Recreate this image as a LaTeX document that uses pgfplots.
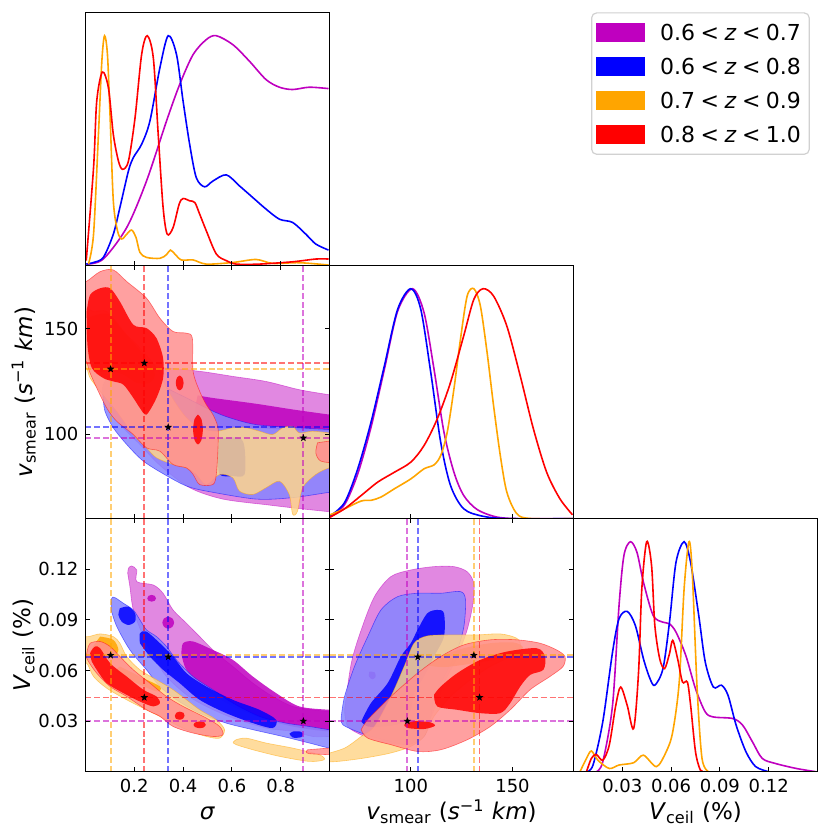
\documentclass[border=0pt]{standalone}
\usepackage{fontspec}
\setmainfont{DejaVu Sans}
\usepackage{pgfplots}
\pgfplotsset{compat=1.18}
\definecolor{cP}{rgb}{0.75,0,0.75}
\definecolor{cB}{rgb}{0,0,1}
\definecolor{cO}{rgb}{1,0.647,0}
\definecolor{cR}{rgb}{1,0,0}
\pgfdeclareplotmark{fstar}{%
\pgfpathmoveto{\pgfpointpolar{90}{\pgfplotmarksize}}%
\pgfpathlineto{\pgfpointpolar{126}{0.42\pgfplotmarksize}}%
\pgfpathlineto{\pgfpointpolar{162}{\pgfplotmarksize}}%
\pgfpathlineto{\pgfpointpolar{198}{0.42\pgfplotmarksize}}%
\pgfpathlineto{\pgfpointpolar{234}{\pgfplotmarksize}}%
\pgfpathlineto{\pgfpointpolar{270}{0.42\pgfplotmarksize}}%
\pgfpathlineto{\pgfpointpolar{306}{\pgfplotmarksize}}%
\pgfpathlineto{\pgfpointpolar{342}{0.42\pgfplotmarksize}}%
\pgfpathlineto{\pgfpointpolar{18}{\pgfplotmarksize}}%
\pgfpathlineto{\pgfpointpolar{54}{0.42\pgfplotmarksize}}%
\pgfpathclose\pgfusepathqfill}
\pgfplotsset{
 panel/.style={scale only axis, width=122pt, height=126.5pt, anchor=south west, axis on top,
   axis line style={line width=0.6pt}, tick style={black, line width=0.5pt}, major tick length=2.2pt,
   tick align=inside, ticklabel style={font=\fontsize{9}{10}\selectfont},
   label style={font=\fontsize{11.5}{13}\selectfont},
   ylabel style={at={(axis description cs:-0.253,0.5)}, anchor=center},
   xlabel style={at={(axis description cs:0.5,-0.19)}, anchor=base}},
 diag/.style={panel, ymin=0, ymax=1.1, ytick=\empty, xtick pos=left},
 ln/.style={smooth, tension=0.5, line width=0.8pt, forget plot},
 oP/.style={smooth, fill=cP!55, fill opacity=0.85, draw=cP, draw opacity=0.5, line width=0.3pt},
 iP/.style={smooth, fill=cP, fill opacity=0.85, draw=none},
 oB/.style={smooth, fill=cB!48, fill opacity=0.85, draw=cB, draw opacity=0.5, line width=0.3pt},
 iB/.style={smooth, fill=cB, fill opacity=0.85, draw=none},
 oO/.style={smooth, fill=cO!45, fill opacity=0.85, draw=cO, draw opacity=0.5, line width=0.3pt},
 iO/.style={smooth, fill=cO, fill opacity=0.85, draw=none},
 oR/.style={smooth, fill=cR!44, fill opacity=0.85, draw=cR, draw opacity=0.5, line width=0.3pt},
 iR/.style={smooth, fill=cR, fill opacity=0.85, draw=none},
 dl/.style={line width=0.9pt, dash pattern=on 3pt off 1.4pt, draw opacity=0.55},
 st/.style={only marks, mark=fstar, mark size=2pt, black},
}
\begin{document}
\begin{tikzpicture}
\useasboundingbox (0,0) rectangle (415pt,416pt);
% ---------------- top-left: sigma density
\begin{axis}[diag, at={(42.75pt,283.15pt)}, xmin=0, xmax=1, xtick={0.2,0.4,0.6,0.8}, xticklabels={},
  legend style={at={(axis description cs:2.072,1.0016)}, anchor=north west, draw=black!18, line width=0.6pt,
   rounded corners=2.5pt, fill=white, font=\fontsize{11}{13}\selectfont, inner xsep=2.15pt, inner ysep=3.7pt,
   row sep=5.1pt, column sep=5.5pt, nodes={inner sep=2pt, text height=8pt, text depth=0pt}},
  legend cell align=left]
\addlegendimage{legend image code/.code={\fill[cP, sharp corners] (0pt,-4.4pt) rectangle (24pt,4.4pt);}}
\addlegendentry{0.6\hspace{0.25em}<\hspace{0.25em}\textit{z}\hspace{0.25em}<\hspace{0.25em}0.7}
\addlegendimage{legend image code/.code={\fill[cB, sharp corners] (0pt,-4.4pt) rectangle (24pt,4.4pt);}}
\addlegendentry{0.6\hspace{0.25em}<\hspace{0.25em}\textit{z}\hspace{0.25em}<\hspace{0.25em}0.8}
\addlegendimage{legend image code/.code={\fill[cO, sharp corners] (0pt,-4.4pt) rectangle (24pt,4.4pt);}}
\addlegendentry{0.7\hspace{0.25em}<\hspace{0.25em}\textit{z}\hspace{0.25em}<\hspace{0.25em}0.9}
\addlegendimage{legend image code/.code={\fill[cR, sharp corners] (0pt,-4.4pt) rectangle (24pt,4.4pt);}}
\addlegendentry{0.8\hspace{0.25em}<\hspace{0.25em}\textit{z}\hspace{0.25em}<\hspace{0.25em}1.0}
\addplot[ln, cP] coordinates {(0.005,0.007) (0.073,0.029) (0.169,0.166) (0.25,0.368) (0.332,0.629) (0.386,0.788) (0.441,0.918) (0.495,0.983) (0.536,1.0) (0.604,0.961) (0.672,0.889) (0.74,0.809) (0.795,0.776) (0.849,0.766) (0.917,0.776) (0.996,0.77)};
\addplot[ln, cB] coordinates {(0.003,0.007) (0.033,0.014) (0.073,0.036) (0.114,0.137) (0.141,0.253) (0.176,0.412) (0.196,0.47) (0.23,0.528) (0.264,0.629) (0.305,0.861) (0.339,1.0) (0.373,0.918) (0.4,0.715) (0.427,0.527) (0.454,0.383) (0.488,0.343) (0.522,0.368) (0.577,0.395) (0.631,0.347) (0.686,0.296) (0.74,0.246) (0.795,0.202) (0.849,0.188) (0.903,0.137) (0.944,0.094) (0.996,0.068)};
\addplot[ln, cO] coordinates {(0.012,0.007) (0.033,0.137) (0.053,0.571) (0.067,0.889) (0.078,1.0) (0.09,0.918) (0.101,0.643) (0.114,0.282) (0.131,0.152) (0.148,0.116) (0.169,0.137) (0.189,0.155) (0.207,0.123) (0.223,0.058) (0.25,0.036) (0.305,0.032) (0.332,0.048) (0.348,0.068) (0.366,0.051) (0.393,0.025) (0.441,0.025) (0.495,0.007) (0.604,0.014) (0.699,0.027) (0.767,0.01) (0.876,0.013) (0.996,0.003)};
\addplot[ln, cR] coordinates {(0.003,0.022) (0.033,0.426) (0.046,0.715) (0.069,0.842) (0.094,0.773) (0.114,0.571) (0.135,0.455) (0.152,0.419) (0.176,0.455) (0.203,0.643) (0.23,0.918) (0.253,1.0) (0.278,0.903) (0.298,0.571) (0.318,0.254) (0.335,0.137) (0.359,0.166) (0.384,0.268) (0.4,0.292) (0.427,0.282) (0.448,0.275) (0.468,0.224) (0.495,0.152) (0.536,0.051) (0.577,0.022) (0.618,0.007) (0.713,0.007) (0.849,0.017) (0.944,0.029) (0.996,0.029)};
\end{axis}
% ---------------- middle-left: sigma vs v_smear
\begin{axis}[panel, at={(42.75pt,156.65pt)}, xmin=0, xmax=1, ymin=60, ymax=180,
  xtick={0.2,0.4,0.6,0.8}, xticklabels={}, ytick={100,150}, yticklabels={100,150},
  ylabel={\textit{v}\textsubscript{smear} (\textit{s}\textsuperscript{−1} \textit{km})}]
\addplot[oP] coordinates {(0.094,117.3)(0.114,120.4)(0.196,128.3)(0.305,131.5)(0.468,129.9)(0.604,127.5)(0.740,125.1)(0.876,121.2)(0.999,118.8)(1.03,118.5)(1.03,63)(0.999,63.3)(0.876,64.8)(0.75,66.5)(0.563,69.3)(0.427,74.7)(0.305,85.3)(0.223,95.2)(0.155,103.1)(0.107,110.9)(0.094,117.3)};
\addplot[iP] coordinates {(0.46,118.5)(0.52,117.3)(0.70,114.5)(0.85,111.8)(0.999,109.4)(1.03,109.2)(1.03,101.4)(0.999,101.5)(0.85,102)(0.70,103)(0.52,103.5)(0.46,106)(0.45,112)(0.46,118.5)};
\addplot[oB] coordinates {(0.071,118.8)(0.073,123.6)(0.114,129.9)(0.169,130.7)(0.237,128.3)(0.332,122.0)(0.414,117.3)(0.495,112.5)(0.577,108.4)(0.700,104.6)(0.876,103.1)(0.999,102.3)(1.03,102.3)(1.03,72.5)(0.999,72.5)(0.85,70)(0.699,69.3)(0.495,73.1)(0.414,75.5)(0.332,80.4)(0.237,87.3)(0.169,95.2)(0.114,103.1)(0.080,110.9)(0.071,118.8)};
\addplot[iB] coordinates {(0.55,98.3)(0.631,98.3)(0.652,93.6)(0.652,81.0)(0.604,80.2)(0.55,81.0)(0.543,90.4)(0.55,98.3)};
\addplot[oO] coordinates {(-0.03,159.8)(0.003,159.8)(0.033,158.3)(0.087,158.3)(0.141,150.4)(0.223,140.9)(0.291,131.5)(0.332,122.0)(0.373,114.1)(0.414,107.8)(0.468,103.1)(0.536,101.5)(0.604,103.1)(0.659,103.1)(0.713,101.5)(0.767,99.9)(0.808,103.1)(0.849,103.8)(0.876,100.7)(0.931,101.5)(0.999,100.7)(1.03,100.7)(1.03,83.5)(0.999,84.1)(0.944,81.0)(0.890,74.7)(0.869,63.6)(0.849,62.1)(0.835,71.5)(0.795,77.8)(0.740,74.7)(0.686,71.5)(0.631,73.1)(0.604,79.4)(0.550,81.0)(0.495,76.2)(0.454,81.0)(0.414,84.1)(0.359,85.7)(0.291,88.9)(0.250,93.6)(0.196,99.9)(0.128,110.9)(0.060,120.4)(0.019,126.7)(0.003,131.5)(-0.03,131.5)(-0.03,159.8)};
\addplot[iO] coordinates {(0.008,155.1)(0.046,156.7)(0.100,156.7)(0.169,147.2)(0.237,137.8)(0.284,129.1)(0.264,124.4)(0.210,124.4)(0.155,128.3)(0.100,129.9)(0.046,129.9)(0.012,134.6)(0.008,155.1)};
\addplot[oR] coordinates {(-0.03,172.5)(0.003,172.5)(0.060,177.2)(0.114,178.0)(0.169,172.5)(0.250,164.6)(0.305,155.1)(0.359,148.8)(0.414,148.0)(0.438,145.6)(0.441,129.9)(0.468,120.4)(0.495,114.1)(0.522,109.4)(0.543,103.1)(0.543,93.6)(0.536,81.0)(0.522,76.2)(0.468,76.2)(0.441,81.0)(0.414,84.1)(0.359,85.7)(0.305,92.0)(0.250,93.6)(0.196,99.9)(0.128,106.2)(0.087,112.5)(0.046,122.0)(0.016,129.9)(0.003,134.6)(-0.03,134.6)(-0.03,172.5)};
\addplot[oR] coordinates {(0.951,96.0)(0.999,96.8)(1.03,96.8)(1.03,87.3)(0.965,87.3)(0.944,91.2)(0.951,96.0)};
\addplot[iR] coordinates {(0.005,158.3)(0.019,166.2)(0.060,169.3)(0.101,169.3)(0.141,163.0)(0.196,152.0)(0.250,150.4)(0.291,145.6)(0.318,136.2)(0.318,126.7)(0.291,117.3)(0.250,109.4)(0.223,112.5)(0.196,117.3)(0.155,123.6)(0.114,125.1)(0.073,126.7)(0.026,131.5)(0.008,142.5)(0.005,158.3)};
\addplot[iR] coordinates {(0.386,127.9)(0.397,126.9)(0.402,124.4)(0.397,121.9)(0.386,120.9)(0.375,121.9)(0.370,124.4)(0.375,126.9)(0.386,127.9)};
\addplot[iR] coordinates {(0.461,109.4)(0.475,107.3)(0.481,102.3)(0.475,97.3)(0.461,95.2)(0.447,97.3)(0.441,102.3)(0.447,107.3)(0.461,109.4)};
\addplot[dl, cO] coordinates {(0.103,60) (0.103,180)};
\addplot[dl, cR] coordinates {(0.241,60) (0.241,180)};
\addplot[dl, cB] coordinates {(0.339,60) (0.339,180)};
\addplot[dl, cP] coordinates {(0.893,60) (0.893,180)};
\addplot[dl, cO] coordinates {(0,131) (1,131)};
\addplot[dl, cR] coordinates {(0,133.8) (1,133.8)};
\addplot[dl, cB] coordinates {(0,103.4) (1,103.4)};
\addplot[dl, cP] coordinates {(0,98.3) (1,98.3)};
\addplot[st] coordinates {(0.103,131) (0.241,133.8) (0.339,103.4) (0.893,98.3)};
\end{axis}
% ---------------- middle diag: v_smear density
\begin{axis}[diag, at={(164.75pt,156.65pt)}, xmin=60, xmax=180, xtick={100,150}, xticklabels={}]
\addplot[ln, cP] coordinates {(60.3,0.007) (67.4,0.061) (73.9,0.195) (80.4,0.397) (87.0,0.65) (93.5,0.902) (100.8,1.0) (106.5,0.896) (111.4,0.65) (116.3,0.376) (121.2,0.202) (126,0.101) (132.6,0.04) (142.4,0.007) (155,0) (180,0)};
\addplot[ln, cB] coordinates {(60.3,0.012) (67.4,0.07) (73.9,0.217) (80.4,0.419) (87.0,0.665) (93.5,0.91) (100,1.0) (104.9,0.91) (109.8,0.636) (114.7,0.332) (119.5,0.145) (126,0.043) (135.8,0.01) (148.9,0.0) (180,0)};
\addplot[ln, cO] coordinates {(60.3,0.017) (67.4,0.043) (75.6,0.077) (80.4,0.08) (85.3,0.094) (91.9,0.13) (100,0.173) (106.5,0.217) (111.4,0.234) (114.7,0.275) (117.9,0.376) (121.2,0.564) (124.4,0.78) (127.7,0.968) (131,1.0) (134.2,0.925) (137.5,0.723) (140.7,0.491) (144,0.275) (147.2,0.116) (152.1,0.022) (158.6,0.001) (180,0)};
\addplot[ln, cR] coordinates {(60.3,0.007) (67.4,0.043) (75.6,0.101) (83.7,0.159) (91.9,0.202) (100,0.246) (106.5,0.318) (113,0.434) (119.5,0.592) (126,0.795) (131,0.954) (135.5,1.0) (140.7,0.968) (147.2,0.838) (153.8,0.621) (160.3,0.39) (166.8,0.202) (173.3,0.087) (179.5,0.017)};
\end{axis}
% ---------------- bottom-left: sigma vs V_ceil
\begin{axis}[panel, at={(42.75pt,30.15pt)}, xmin=0, xmax=1, ymin=0, ymax=0.15,
  xtick={0.2,0.4,0.6,0.8}, xticklabels={0.2,0.4,0.6,0.8},
  ytick={0.03,0.06,0.09,0.12}, yticklabels={0.03,0.06,0.09,0.12},
  xlabel={\textit{σ}}, ylabel={\textit{V}\textsubscript{ceil} (\%)}]
\addplot[oP] coordinates {(0.173,0.1176)(0.176,0.1206)(0.189,0.1220)(0.210,0.1196)(0.210,0.1127)(0.278,0.1107)(0.318,0.1058)(0.359,0.0959)(0.414,0.0880)(0.468,0.0801)(0.536,0.0703)(0.604,0.0624)(0.686,0.0525)(0.767,0.0446)(0.849,0.0387)(0.931,0.0367)(0.999,0.0357)(1.03,0.0357)(1.03,0.0209)(0.999,0.0209)(0.931,0.0209)(0.849,0.0239)(0.740,0.0259)(0.604,0.0318)(0.495,0.0387)(0.414,0.0456)(0.332,0.0564)(0.278,0.0683)(0.237,0.0801)(0.196,0.0959)(0.182,0.1097)(0.173,0.1176)};
\addplot[iP] coordinates {(0.393,0.0703)(0.400,0.0762)(0.441,0.0772)(0.522,0.0722)(0.604,0.0663)(0.686,0.0564)(0.781,0.0466)(0.876,0.0387)(0.999,0.0367)(1.03,0.0367)(1.03,0.0239)(0.999,0.0239)(0.931,0.0249)(0.849,0.0268)(0.740,0.0308)(0.604,0.0387)(0.495,0.0486)(0.414,0.0604)(0.393,0.0703)};
\addplot[iP] coordinates {(0.271,0.1048)(0.284,0.1042)(0.289,0.1028)(0.284,0.1014)(0.271,0.1008)(0.258,0.1014)(0.253,0.1028)(0.258,0.1042)(0.271,0.1048)};
\addplot[iP] coordinates {(0.339,0.092)(0.356,0.0909)(0.363,0.0884)(0.356,0.0859)(0.339,0.0848)(0.322,0.0859)(0.315,0.0884)(0.322,0.0909)(0.339,0.092)};
\addplot[oB] coordinates {(0.105,0.0959)(0.107,0.1028)(0.121,0.1032)(0.155,0.0999)(0.196,0.0959)(0.223,0.0900)(0.250,0.0841)(0.291,0.0801)(0.332,0.0742)(0.373,0.0663)(0.441,0.0564)(0.522,0.0486)(0.604,0.0407)(0.713,0.0328)(0.822,0.0288)(0.917,0.0268)(0.999,0.0249)(1.03,0.0249)(1.03,0.0140)(0.999,0.0140)(0.917,0.0170)(0.808,0.0209)(0.686,0.0249)(0.577,0.0288)(0.468,0.0347)(0.373,0.0426)(0.305,0.0505)(0.250,0.0604)(0.182,0.0722)(0.128,0.0861)(0.105,0.0959)};
\addplot[iB] coordinates {(0.141,0.0969)(0.176,0.0979)(0.203,0.0939)(0.203,0.0890)(0.176,0.0870)(0.148,0.0890)(0.135,0.0930)(0.141,0.0969)};
\addplot[iB] coordinates {(0.223,0.0762)(0.223,0.0821)(0.250,0.0831)(0.305,0.0762)(0.359,0.0683)(0.414,0.0584)(0.495,0.0505)(0.604,0.0426)(0.713,0.0367)(0.781,0.0308)(0.767,0.0259)(0.686,0.0288)(0.577,0.0347)(0.468,0.0426)(0.386,0.0525)(0.318,0.0604)(0.264,0.0683)(0.223,0.0762)};
\addplot[iB] coordinates {(0.836,0.0225)(0.85,0.0238)(0.88,0.0238)(0.89,0.0225)(0.885,0.0205)(0.85,0.0202)(0.836,0.0225)};
\addplot[oO] coordinates {(-0.03,0.0801)(0.012,0.0801)(0.060,0.0817)(0.114,0.0801)(0.141,0.0762)(0.169,0.0683)(0.223,0.0604)(0.291,0.0545)(0.359,0.0486)(0.414,0.0426)(0.468,0.0367)(0.536,0.0308)(0.570,0.0249)(0.550,0.0199)(0.495,0.0209)(0.414,0.0249)(0.332,0.0308)(0.250,0.0367)(0.169,0.0426)(0.087,0.0495)(0.033,0.0564)(0.005,0.0643)(-0.03,0.0643)(-0.03,0.0801)};
\addplot[oO] coordinates {(0.618,0.0190)(0.659,0.0199)(0.740,0.0170)(0.849,0.0140)(0.958,0.0101)(0.978,0.0071)(0.917,0.0061)(0.795,0.0091)(0.686,0.0130)(0.618,0.0160)(0.605,0.0175)(0.618,0.0190)};
\addplot[iO] coordinates {(0.060,0.0801)(0.114,0.0782)(0.135,0.0722)(0.114,0.0683)(0.060,0.0683)(0.026,0.0722)(0.060,0.0801)};
\addplot[iO] coordinates {(0.141,0.0624)(0.223,0.0564)(0.305,0.0505)(0.291,0.0476)(0.196,0.0535)(0.128,0.0594)(0.141,0.0624)};
\addplot[oR] coordinates {(0.003,0.0683)(0.008,0.0722)(0.019,0.0762)(0.060,0.0772)(0.101,0.0742)(0.141,0.0683)(0.196,0.0604)(0.264,0.0525)(0.332,0.0446)(0.400,0.0387)(0.495,0.0318)(0.550,0.0268)(0.563,0.0219)(0.522,0.0209)(0.441,0.0229)(0.359,0.0268)(0.305,0.0328)(0.250,0.0367)(0.169,0.0446)(0.101,0.0505)(0.046,0.0584)(0.012,0.0653)(0.003,0.0683)};
\addplot[oR] coordinates {(0.910,0.0130)(0.999,0.0140)(1.03,0.0140)(1.03,0.0101)(0.999,0.0101)(0.917,0.0107)(0.905,0.0118)(0.910,0.0130)};
\addplot[iR] coordinates {(0.026,0.0653)(0.019,0.0703)(0.039,0.0742)(0.060,0.0732)(0.101,0.0643)(0.169,0.0564)(0.237,0.0486)(0.291,0.0446)(0.305,0.0407)(0.278,0.0387)(0.223,0.0416)(0.155,0.0466)(0.087,0.0525)(0.046,0.0604)(0.026,0.0653)};
\addplot[iR] coordinates {(0.386,0.0356)(0.402,0.0349)(0.406,0.0332)(0.400,0.0315)(0.386,0.0308)(0.370,0.0315)(0.366,0.0332)(0.372,0.0349)(0.386,0.0356)};
\addplot[iR] coordinates {(0.468,0.0298)(0.488,0.0292)(0.493,0.0278)(0.485,0.0263)(0.468,0.0258)(0.450,0.0264)(0.443,0.0278)(0.450,0.0292)(0.468,0.0298)};
\addplot[dl, cO] coordinates {(0.103,0) (0.103,0.15)};
\addplot[dl, cR] coordinates {(0.241,0) (0.241,0.15)};
\addplot[dl, cB] coordinates {(0.339,0) (0.339,0.15)};
\addplot[dl, cP] coordinates {(0.893,0) (0.893,0.15)};
\addplot[dl, cO] coordinates {(0,0.069) (1,0.069)};
\addplot[dl, cR] coordinates {(0,0.044) (1,0.044)};
\addplot[dl, cB] coordinates {(0,0.068) (1,0.068)};
\addplot[dl, cP] coordinates {(0,0.030) (1,0.030)};
\addplot[st] coordinates {(0.103,0.069) (0.241,0.044) (0.339,0.068) (0.893,0.030)};
\end{axis}
% ---------------- bottom-middle: v_smear vs V_ceil
\begin{axis}[panel, at={(164.75pt,30.15pt)}, xmin=60, xmax=180, ymin=0, ymax=0.15,
  xtick={100,150}, xticklabels={100,150}, ytick={0.03,0.06,0.09,0.12}, yticklabels={},
  xlabel={\textit{v}\textsubscript{smear} (\textit{s}\textsuperscript{−1} \textit{km})}]
\addplot[oP] coordinates {(67.4,0.0367)(70.7,0.0643)(75.6,0.0841)(82.1,0.1038)(90.2,0.1157)(100,0.1196)(111.4,0.1216)(121.2,0.1216)(127.7,0.1186)(131.0,0.1117)(130.6,0.0999)(127.7,0.0841)(122.8,0.0683)(116.3,0.0525)(111.4,0.0367)(106.5,0.0249)(98.4,0.0170)(87.0,0.0170)(77.2,0.0209)(69.0,0.0268)(67.4,0.0367)};
\addplot[iP] coordinates {(79.6,0.0594)(82.3,0.0588)(82.6,0.056)(81,0.0548)(79.4,0.0565)(79.6,0.0594)};
\addplot[oB] coordinates {(65.8,0.0328)(67.4,0.0446)(72.3,0.0624)(78.8,0.0801)(85.3,0.0959)(93.5,0.1038)(103.3,0.1058)(114.7,0.1058)(124.4,0.1068)(126.9,0.1018)(126.1,0.0861)(122.8,0.0722)(116.3,0.0564)(111.4,0.0446)(109.8,0.0328)(106.5,0.0209)(98.4,0.0160)(87.0,0.0189)(75.6,0.0229)(66.6,0.0278)(65.8,0.0328)};
\addplot[iB] coordinates {(75.6,0.0298)(80.4,0.0407)(88.6,0.0525)(95.1,0.0683)(100.0,0.0762)(103.3,0.0841)(108.1,0.0939)(113.0,0.0959)(116.3,0.0939)(116.3,0.0801)(111.4,0.0683)(106.5,0.0564)(101.6,0.0466)(100.0,0.0367)(95.1,0.0288)(87.0,0.0268)(78.8,0.0268)(75.6,0.0298)};
\addplot[oO] coordinates {(57,0.0101)(67.4,0.0140)(75.6,0.0209)(82.1,0.0268)(90.2,0.0446)(96.7,0.0624)(101.6,0.0762)(108.1,0.0805)(119.6,0.0811)(132.6,0.0811)(144.0,0.0817)(152.1,0.0791)(153.8,0.0742)(148.9,0.0683)(139.1,0.0624)(129.3,0.0545)(119.6,0.0446)(111.4,0.0328)(106.5,0.0209)(100.0,0.0150)(90.2,0.0111)(77.2,0.0081)(64.2,0.0061)(57,0.0061)(57,0.0101)};
\addplot[iO] coordinates {(109.0,0.0628)(114.7,0.0683)(126.1,0.0732)(139.1,0.0762)(150.5,0.0766)(155.1,0.0738)(152.1,0.0693)(145.6,0.0673)(135.8,0.0653)(126.1,0.0634)(116.3,0.0620)(109.0,0.0628)};
\addplot[oR] coordinates {(75.6,0.0249)(78.8,0.0308)(90.2,0.0446)(103.3,0.0584)(114.7,0.0683)(126.1,0.0752)(139.1,0.0782)(152.1,0.0782)(163.5,0.0762)(171.7,0.0722)(175.8,0.0683)(174.9,0.0624)(168.4,0.0564)(158.7,0.0486)(148.9,0.0367)(139.1,0.0268)(127.7,0.0189)(114.7,0.0130)(103.3,0.0120)(90.2,0.0160)(78.8,0.0199)(75.6,0.0249)};
\addplot[iR] coordinates {(111.4,0.0456)(114.7,0.0505)(122.8,0.0584)(134.2,0.0663)(147.2,0.0712)(161.9,0.0732)(166.0,0.0683)(165.2,0.0604)(158.7,0.0574)(153.8,0.0505)(148.9,0.0407)(144.0,0.0347)(134.2,0.0347)(122.8,0.0367)(113.0,0.0387)(111.4,0.0456)};
\addplot[iR] coordinates {(96.7,0.0278)(101.6,0.0300)(109.8,0.0292)(111.9,0.0272)(106.5,0.0253)(98.4,0.0259)(96.7,0.0278)};
\addplot[dl, cP] coordinates {(98.3,0) (98.3,0.15)};
\addplot[dl, cB] coordinates {(103.4,0) (103.4,0.15)};
\addplot[dl, cO] coordinates {(131,0) (131,0.15)};
\addplot[dl, cR] coordinates {(133.8,0) (133.8,0.15)};
\addplot[dl, cO] coordinates {(60,0.069) (180,0.069)};
\addplot[dl, cR] coordinates {(60,0.044) (180,0.044)};
\addplot[dl, cB] coordinates {(60,0.068) (180,0.068)};
\addplot[dl, cP] coordinates {(60,0.030) (180,0.030)};
\addplot[st] coordinates {(131,0.069) (133.8,0.044) (103.4,0.068) (98.3,0.030)};
\end{axis}
% ---------------- bottom-right: V_ceil density
\begin{axis}[diag, at={(286.75pt,30.15pt)}, xmin=0, xmax=0.15, xtick={0.03,0.06,0.09,0.12},
  xticklabels={0.03,0.06,0.09,0.12}, xlabel={\textit{V}\textsubscript{ceil} (\%)}]
\addplot[ln, cP] coordinates {(0.014,0) (0.018,0.043) (0.024,0.289) (0.028,0.723) (0.031,0.94) (0.035,1.0) (0.039,0.954) (0.043,0.824) (0.049,0.679) (0.055,0.65) (0.059,0.643) (0.063,0.607) (0.069,0.506) (0.075,0.361) (0.081,0.26) (0.086,0.238) (0.098,0.231) (0.104,0.202) (0.11,0.13) (0.116,0.058) (0.124,0.036) (0.137,0.014) (0.149,0)};
\addplot[ln, cB] coordinates {(0.008,0) (0.012,0.029) (0.018,0.217) (0.024,0.52) (0.028,0.665) (0.033,0.697) (0.038,0.636) (0.043,0.491) (0.047,0.405) (0.05,0.376) (0.055,0.448) (0.059,0.65) (0.063,0.91) (0.068,1.0) (0.072,0.91) (0.077,0.679) (0.081,0.477) (0.086,0.368) (0.091,0.376) (0.095,0.332) (0.1,0.202) (0.106,0.087) (0.112,0.022) (0.12,0)};
\addplot[ln, cO] coordinates {(0.004,0) (0.008,0.058) (0.011,0.09) (0.015,0.05) (0.022,0.014) (0.028,0.029) (0.037,0.039) (0.043,0.072) (0.051,0.022) (0.057,0.087) (0.061,0.173) (0.065,0.39) (0.068,0.795) (0.071,1.0) (0.073,0.867) (0.076,0.361) (0.079,0.058) (0.083,0)};
\addplot[ln, cR] coordinates {(0.008,0) (0.011,0.058) (0.014,0.075) (0.018,0.05) (0.022,0.116) (0.026,0.289) (0.029,0.368) (0.033,0.289) (0.037,0.188) (0.040,0.434) (0.042,0.795) (0.045,1.0) (0.048,0.896) (0.05,0.636) (0.053,0.491) (0.056,0.448) (0.059,0.513) (0.061,0.571) (0.064,0.491) (0.067,0.39) (0.070,0.39) (0.072,0.289) (0.075,0.087) (0.078,0.007) (0.081,0)};
\end{axis}
\end{tikzpicture}
\end{document}
